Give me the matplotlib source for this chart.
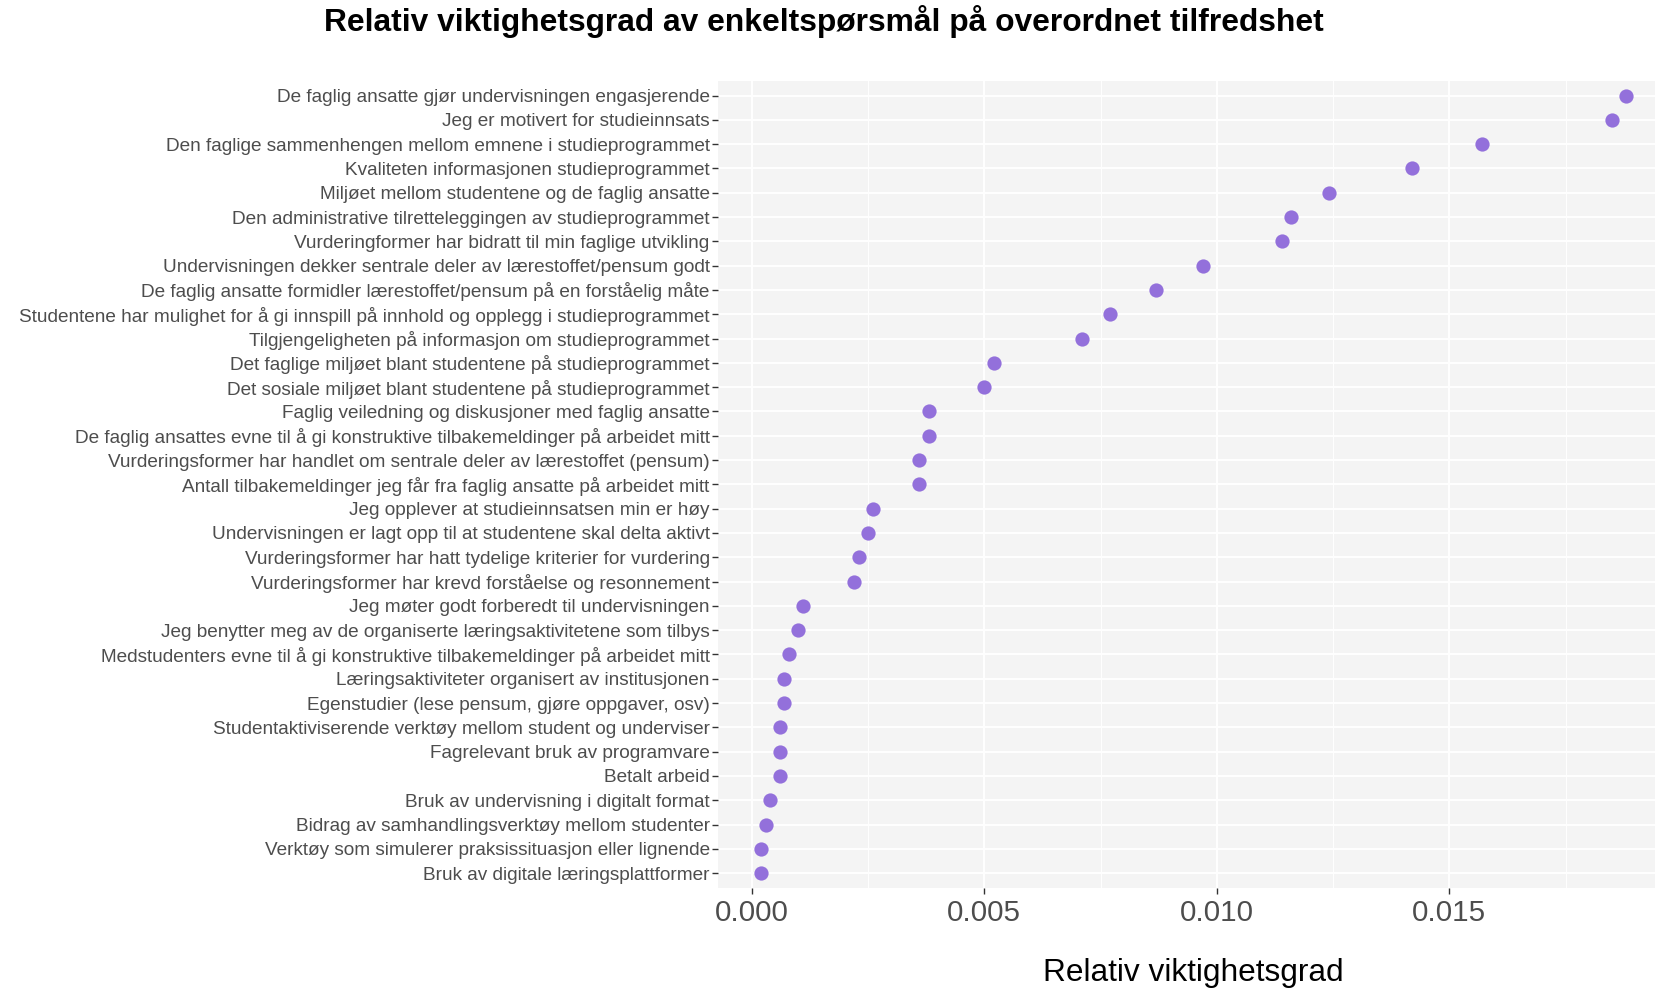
import numpy as np
import matplotlib
matplotlib.use("Agg")
import matplotlib.pyplot as plt
from matplotlib.ticker import MultipleLocator

plt.rcParams['font.family'] = ['Liberation Sans', 'DejaVu Sans']

# questions, top to bottom
labels = [
    "De faglig ansatte gjør undervisningen engasjerende",
    "Jeg er motivert for studieinnsats",
    "Den faglige sammenhengen mellom emnene i studieprogrammet",
    "Kvaliteten informasjonen studieprogrammet",
    "Miljøet mellom studentene og de faglig ansatte",
    "Den administrative tilretteleggingen av studieprogrammet",
    "Vurderingformer har bidratt til min faglige utvikling",
    "Undervisningen dekker sentrale deler av lærestoffet/pensum godt",
    "De faglig ansatte formidler lærestoffet/pensum på en forståelig måte",
    "Studentene har mulighet for å gi innspill på innhold og opplegg i studieprogrammet",
    "Tilgjengeligheten på informasjon om studieprogrammet",
    "Det faglige miljøet blant studentene på studieprogrammet",
    "Det sosiale miljøet blant studentene på studieprogrammet",
    "Faglig veiledning og diskusjoner med faglig ansatte",
    "De faglig ansattes evne til å gi konstruktive tilbakemeldinger på arbeidet mitt",
    "Vurderingsformer har handlet om sentrale deler av lærestoffet (pensum)",
    "Antall tilbakemeldinger jeg får fra faglig ansatte på arbeidet mitt",
    "Jeg opplever at studieinnsatsen min er høy",
    "Undervisningen er lagt opp til at studentene skal delta aktivt",
    "Vurderingsformer har hatt tydelige kriterier for vurdering",
    "Vurderingsformer har krevd forståelse og resonnement",
    "Jeg møter godt forberedt til undervisningen",
    "Jeg benytter meg av de organiserte læringsaktivitetene som tilbys",
    "Medstudenters evne til å gi konstruktive tilbakemeldinger på arbeidet mitt",
    "Læringsaktiviteter organisert av institusjonen",
    "Egenstudier (lese pensum, gjøre oppgaver, osv)",
    "Studentaktiviserende verktøy mellom student og underviser",
    "Fagrelevant bruk av programvare",
    "Betalt arbeid",
    "Bruk av undervisning i digitalt format",
    "Bidrag av samhandlingsverktøy mellom studenter",
    "Verktøy som simulerer praksissituasjon eller lignende",
    "Bruk av digitale læringsplattformer",
]
values = [0.01880, 0.01850, 0.01570, 0.01420, 0.01240, 0.01160, 0.01140,
          0.00970, 0.00870, 0.00770, 0.00710, 0.00520, 0.00500, 0.00380,
          0.00380, 0.00360, 0.00360, 0.00260, 0.00250, 0.00230, 0.00220,
          0.00110, 0.00100, 0.00080, 0.00070, 0.00070, 0.00060, 0.00060,
          0.00060, 0.00040, 0.00030, 0.00020, 0.00020]

n = len(labels)
ypos = np.arange(n)[::-1]

fig = plt.figure(figsize=(16.55, 9.9), dpi=100)
ax = fig.add_axes([718/1655, 1-887.7/990, 1-718/1655, (887.7-81)/990])
ax.set_facecolor('#F4F4F4')

ax.scatter(values, ypos, s=105, color='#9370DB', zorder=3, linewidths=0)

ax.set_xlim(-0.000727, 0.01942)
ax.set_ylim(-0.6, n-1+0.6)
ax.set_yticks(ypos)
ax.set_yticklabels(labels)
ax.xaxis.set_major_locator(MultipleLocator(0.005))
ax.xaxis.set_minor_locator(MultipleLocator(0.0025))
ax.set_xticks([0.0, 0.005, 0.010, 0.015])
ax.set_xticklabels(["0.000", "0.005", "0.010", "0.015"])

ax.grid(True, which='major', color='white', lw=1.4, zorder=0)
ax.grid(True, which='minor', axis='x', color='white', lw=0.7, zorder=0)
ax.set_axisbelow(True)
for sp in ax.spines.values():
    sp.set_visible(False)

ax.tick_params(axis='y', labelsize=13.7, colors='#333333', length=4, width=1, pad=2, labelcolor='#4D4D4D')
ax.tick_params(axis='x', labelsize=21.3, colors='#333333', length=4, width=1, pad=4, labelcolor='#4D4D4D')
ax.tick_params(which='minor', length=0)

ax.set_xlabel("Relativ viktighetsgrad", fontsize=22.8, color='black', va='center')
ax.xaxis.set_label_coords(0.507, -0.1057)
fig.text(824/1655, 1-21/990, "Relativ viktighetsgrad av enkeltspørsmål på overordnet tilfredshet",
         ha='center', va='center', fontsize=22.9, fontweight='bold')

plt.savefig("out.png", dpi=100)
